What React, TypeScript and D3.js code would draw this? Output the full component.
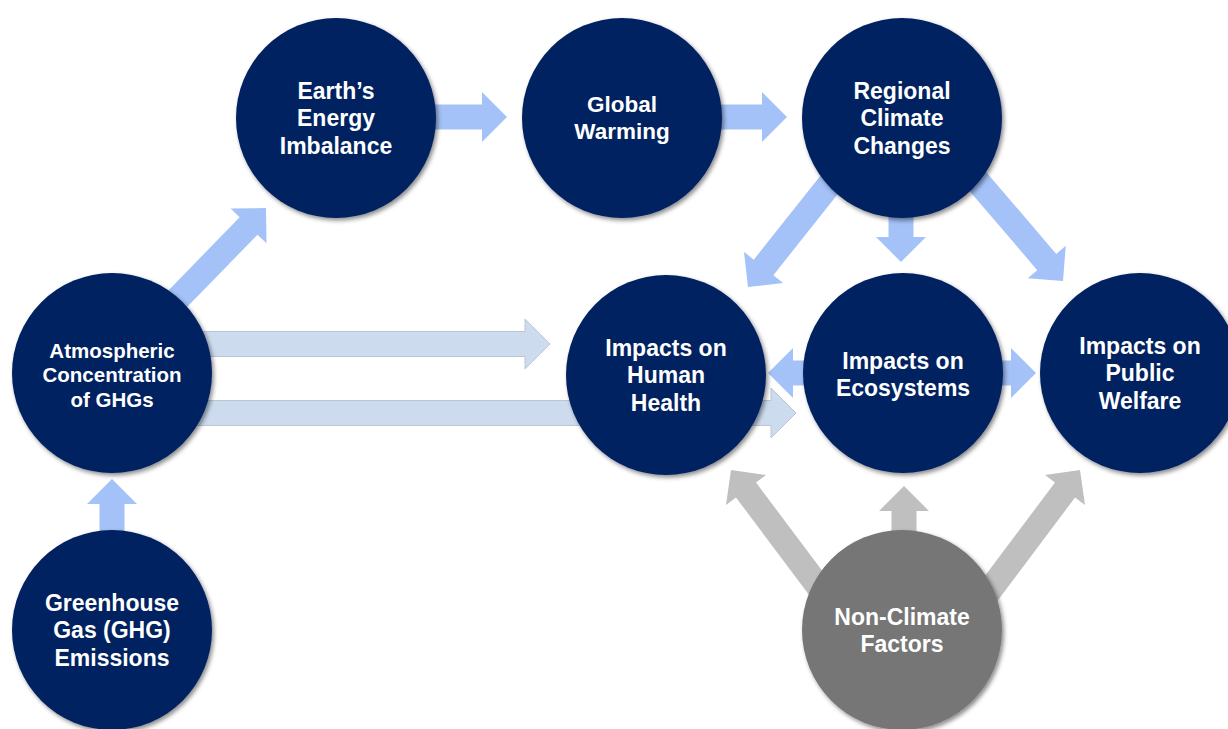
import React from "react";
import * as d3 from "d3";

// ---- Data ----
const nodeIds = ["energy", "warming", "regional", "atmos", "health", "eco", "welfare", "ghg", "nonclimate"];
const nodeLabels = [
  ["Earth\u2019s", "Energy", "Imbalance"],
  ["Global", "Warming"],
  ["Regional", "Climate", "Changes"],
  ["Atmospheric", "Concentration", "of GHGs"],
  ["Impacts on", "Human", "Health"],
  ["Impacts on", "Ecosystems"],
  ["Impacts on", "Public", "Welfare"],
  ["Greenhouse", "Gas (GHG)", "Emissions"],
  ["Non-Climate", "Factors"],
];
const nodeKinds = ["climate", "climate", "climate", "climate", "climate", "climate", "climate", "climate", "other"];

// links: [from, to, kind]
const linkFrom = ["energy", "warming", "regional", "regional", "regional", "atmos", "atmos", "atmos", "eco", "eco", "nonclimate", "nonclimate", "nonclimate", "ghg"];
const linkTo = ["warming", "regional", "eco", "health", "welfare", "energy", "health", "eco", "health", "welfare", "health", "eco", "welfare", "atmos"];
const linkKinds = ["main", "main", "main", "main", "main", "main", "pale", "pale", "main", "main", "gray", "gray", "gray", "main"];

// ---- Layout (positions) ----
const R = 100;
const nodePos: Record<string, [number, number]> = {
  energy: [336, 118],
  warming: [622, 118],
  regional: [902, 118],
  atmos: [112, 373],
  health: [666, 375],
  eco: [903, 373],
  welfare: [1140, 373],
  ghg: [112, 630],
  nonclimate: [902, 630],
};
const fontSizes: Record<string, number> = { atmos: 20.5, warming: 22.5 };
const lineGap: Record<string, number> = { atmos: 24.5 };
const textShift: Record<string, number> = { atmos: 2, health: 0, eco: 1, welfare: 0, warming: -0.5 };

// arrow geometry: tip point, direction (dx, dy), total length
const arrowGeom: Record<string, { tip: [number, number]; dir: [number, number]; len: number }> = {
  "energy-warming": { tip: [507, 117], dir: [1, 0], len: 80 },
  "warming-regional": { tip: [787, 117], dir: [1, 0], len: 80 },
  "regional-eco": { tip: [901, 262], dir: [0, 1], len: 60 },
  "regional-health": { tip: [748, 287], dir: [-0.62, 0.78], len: 150 },
  "regional-welfare": { tip: [1063, 281], dir: [0.65, 0.76], len: 150 },
  "atmos-energy": { tip: [266, 208], dir: [0.697, -0.717], len: 140 },
  "atmos-health": { tip: [550, 344], dir: [1, 0], len: 370 },
  "atmos-eco": { tip: [796, 413], dir: [1, 0], len: 610 },
  "eco-health": { tip: [768, 373], dir: [-1, 0], len: 60 },
  "eco-welfare": { tip: [1036, 373], dir: [1, 0], len: 60 },
  "nonclimate-health": { tip: [731, 470], dir: [-0.6, -0.8], len: 160 },
  "nonclimate-eco": { tip: [904, 486], dir: [0, -1], len: 60 },
  "nonclimate-welfare": { tip: [1080, 470], dir: [0.6, -0.8], len: 160 },
  "ghg-atmos": { tip: [112, 479], dir: [0, -1], len: 60 },
};

const colors = {
  climate: "#002060",
  other: "#767676",
  main: "#a4c2f8",
  pale: "#ccdbee",
  gray: "#bfbfbf",
};

function arrowPath(tip: [number, number], dir: [number, number], len: number) {
  const n = Math.hypot(dir[0], dir[1]);
  const ux = dir[0] / n, uy = dir[1] / n;
  const px = -uy, py = ux;
  const sw = 12.5, hw = 25, hl = 25;
  const sx = tip[0] - ux * len, sy = tip[1] - uy * len;
  const pt = (a: number, b: number): [number, number] => [sx + ux * a + px * b, sy + uy * a + py * b];
  const pts: [number, number][] = [
    pt(0, -sw), pt(len - hl, -sw), pt(len - hl, -hw), pt(len, 0),
    pt(len - hl, hw), pt(len - hl, sw), pt(0, sw),
  ];
  const p = d3.path();
  pts.forEach((q, i) => (i === 0 ? p.moveTo(q[0], q[1]) : p.lineTo(q[0], q[1])));
  p.closePath();
  return p.toString();
}

export default function App() {
  const links = linkFrom.map((f, i) => ({ from: f, to: linkTo[i], kind: linkKinds[i] }));
  const order = ["pale", "main", "gray"];
  const sorted = [...links].sort((a, b) => order.indexOf(a.kind) - order.indexOf(b.kind));
  return (
    <div style={{ position: "absolute", left: 0, top: 0 }}>
      <svg width={1228} height={729} style={{ display: "block", background: "#ffffff" }}>
        <defs>
          <filter id="sh" x="-20%" y="-20%" width="140%" height="140%">
            <feDropShadow dx="2" dy="2.5" stdDeviation="2" floodColor="#000" floodOpacity="0.45" />
          </filter>
        </defs>
        <g>
          {sorted.map((l) => {
            const g = arrowGeom[`${l.from}-${l.to}`];
            return (
              <path
                key={`${l.from}-${l.to}`}
                d={arrowPath(g.tip, g.dir, g.len)}
                fill={(colors as any)[l.kind]}
                stroke={l.kind === "pale" ? "#bcc6d3" : "none"}
                strokeWidth={l.kind === "pale" ? 1 : 0}
              />
            );
          })}
        </g>
        <g>
          {nodeIds.map((id, i) => {
            const [cx, cy] = nodePos[id];
            const lines = nodeLabels[i];
            const fs = fontSizes[id] ?? 23;
            const gap = lineGap[id] ?? 27.5;
            const shift = textShift[id] ?? 0;
            const y0 = cy + shift - ((lines.length - 1) * gap) / 2;
            return (
              <g key={id}>
                <circle cx={cx} cy={cy} r={R} fill={(colors as any)[nodeKinds[i]]} filter="url(#sh)" />
                <text
                  textAnchor="middle"
                  fill="#ffffff"
                  fontFamily="'Liberation Sans', Arial, sans-serif"
                  fontWeight="bold"
                  fontSize={fs}
                >
                  {lines.map((t, j) => (
                    <tspan key={j} x={cx} y={y0 + j * gap} dy="0.36em">
                      {t}
                    </tspan>
                  ))}
                </text>
              </g>
            );
          })}
        </g>
      </svg>
    </div>
  );
}
